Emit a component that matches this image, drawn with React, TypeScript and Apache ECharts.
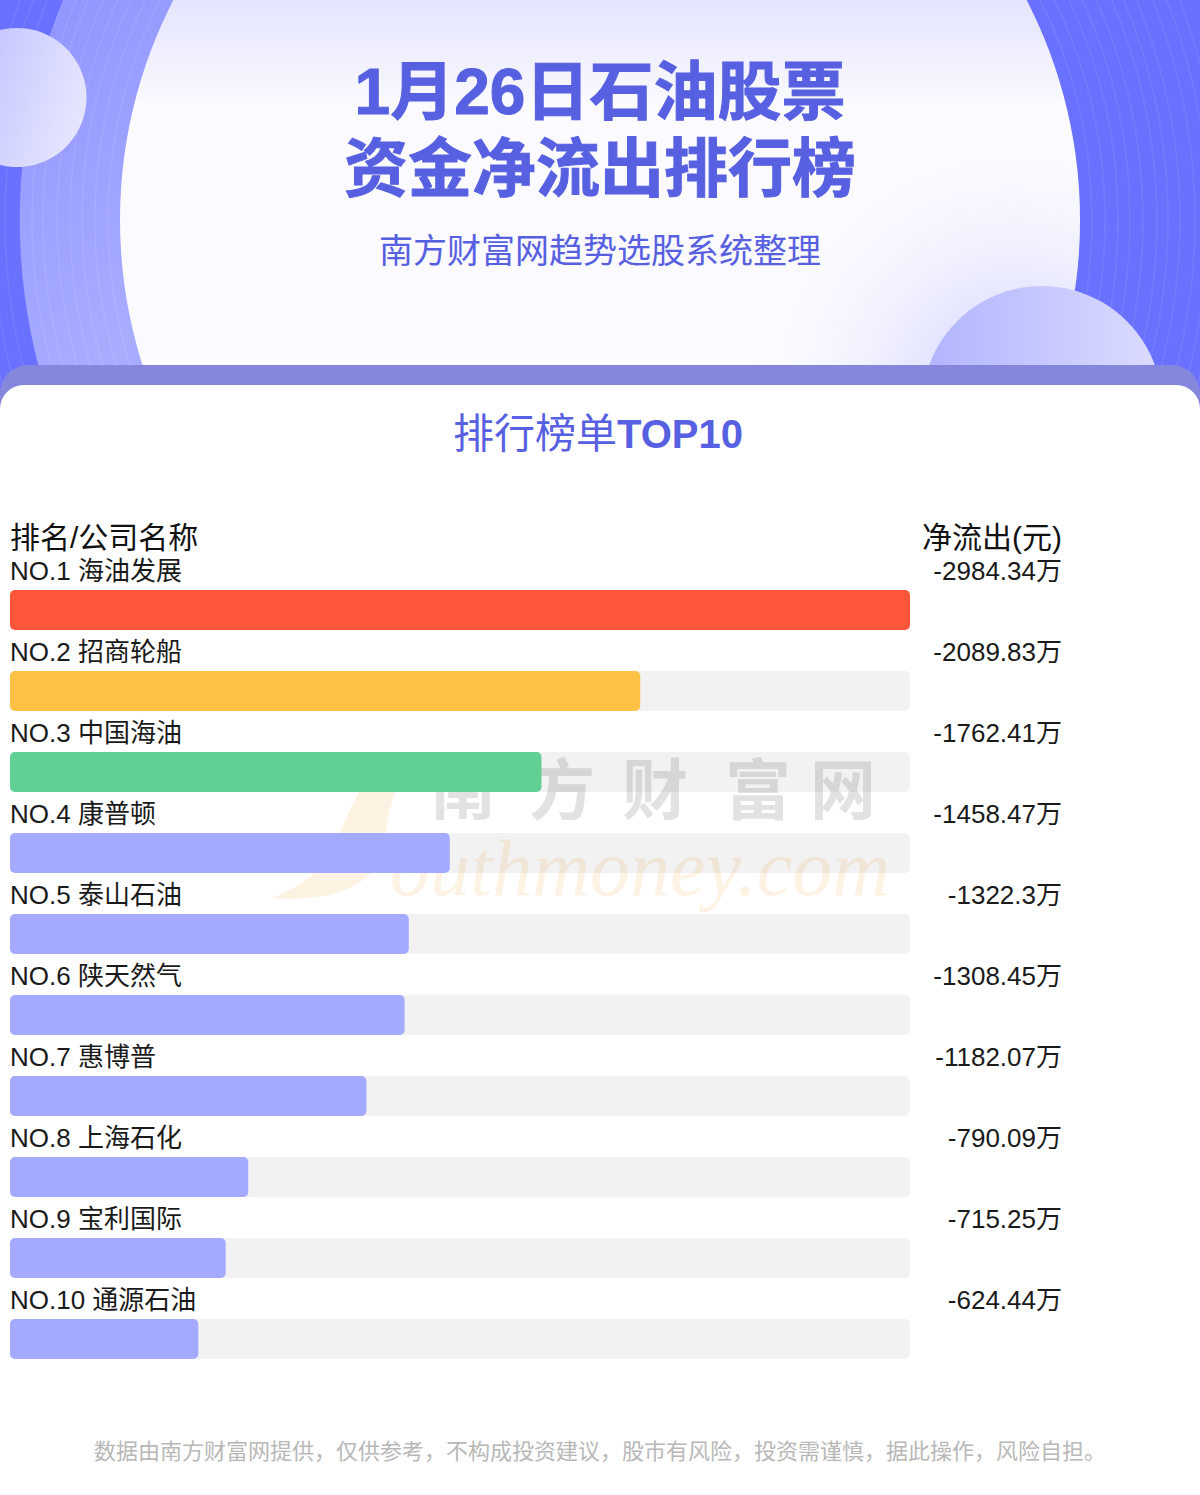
import React, { useEffect, useRef } from "react";
import * as echarts from "echarts";

const companies = ["海油发展", "招商轮船", "中国海油", "康普顿", "泰山石油", "陕天然气", "惠博普", "上海石化", "宝利国际", "通源石油"];
const outflows = [2984.34, 2089.83, 1762.41, 1458.47, 1322.3, 1308.45, 1182.07, 790.09, 715.25, 624.44];
const barColors = ["#ff5539", "#ffc145", "#62cf94", "#a4aaff", "#a4aaff", "#a4aaff", "#a4aaff", "#a4aaff", "#a4aaff", "#a4aaff"];
const ringRadii = [492, 505, 518, 530, 543, 557, 568, 580, 595, 608, 620];
const watermarkChars = ["南", "方", "财", "富", "网"];
const watermarkX = [463, 562, 655, 758, 843];

const FONT = '"Liberation Sans", "Noto Sans CJK SC", sans-serif';
const TITLE_COLOR = "#5860e2";

echarts.graphic.registerShape(
  "swoosh",
  echarts.graphic.extendPath("M398 752 C362 768 345 825 328 858 C314 878 292 890 272 898 C330 902 372 888 384 850 C388 800 398 780 420 752 Z", {})
);

const text = (t: string, x: number, y: number, size: number, fill: string, align = "center", weight: any = "normal", family = FONT, extra: any = {}) => ({
  type: "text",
  style: { text: t, x, y, fontSize: size, fontFamily: family, fontWeight: weight, fill, textAlign: align, textVerticalAlign: "middle", ...extra },
});

const App = () => {
  const chartRef = useRef<HTMLDivElement>(null);

  useEffect(() => {
    const chart = echarts.init(chartRef.current, null, { renderer: "svg" });
    const axisMax = outflows[0];
    const heavy = { stroke: TITLE_COLOR, lineWidth: 1 };

    chart.setOption({
      animation: false,
      backgroundColor: "#ffffff",
      graphic: [
        // header background
        { type: "rect", shape: { x: 0, y: 0, width: 1200, height: 420 }, style: { fill: "#6a70ff" } },
        {
          type: "circle",
          shape: { cx: 600, cy: 220, r: 580 },
          style: {
            fill: {
              type: "linear", x: 0, y: 0.25, x2: 0.35, y2: 0.65,
              colorStops: [
                { offset: 0, color: "#8a90ff" },
                { offset: 0.6, color: "#a8acff" },
                { offset: 1, color: "#a8acff" },
              ],
            },
          },
        },
        { type: "rect", shape: { x: 600, y: 0, width: 600, height: 420 }, style: { fill: "#6a70ff" } },
        ...ringRadii.map((r) => ({
          type: "circle",
          shape: { cx: 600, cy: 220, r },
          style: { fill: "none", stroke: "rgba(255,255,255,0.09)", lineWidth: 1.5 },
        })),
        {
          type: "circle",
          shape: { cx: 600, cy: 220, r: 480 },
          style: {
            fill: {
              type: "linear", x: 0, y: 0.22, x2: 0, y2: 0.38,
              colorStops: [
                { offset: 0, color: "#dadaff" },
                { offset: 1, color: "#fafaff" },
              ],
            },
          },
        },
        // soft tint inside the big circle, lower right
        {
          type: "circle",
          shape: { cx: 600, cy: 220, r: 480 },
          style: {
            fill: {
              type: "radial", x: 0.93, y: 0.68, r: 0.28,
              colorStops: [
                { offset: 0, color: "rgba(190,192,255,0.8)" },
                { offset: 1, color: "rgba(250,250,255,0)" },
              ],
            },
          },
        },
        {
          type: "circle",
          shape: { cx: 17, cy: 97.5, r: 69.5 },
          style: {
            fill: {
              type: "linear", x: 0, y: 0, x2: 1, y2: 0.3,
              colorStops: [
                { offset: 0, color: "#b6b9ff" },
                { offset: 1, color: "#e4e4ff" },
              ],
            },
          },
        },
        {
          type: "circle",
          shape: { cx: 1042, cy: 406, r: 120 },
          style: {
            fill: {
              type: "linear", x: 0, y: 0.3, x2: 1, y2: 0.3,
              colorStops: [
                { offset: 0, color: "#b0b4ff" },
                { offset: 1, color: "#dcdcff" },
              ],
            },
          },
        },
        // card
        { type: "rect", shape: { x: 0, y: 365, width: 1200, height: 100, r: [28, 28, 0, 0] }, style: { fill: "#8587dc" } },
        { type: "rect", shape: { x: 0, y: 385, width: 1200, height: 1110, r: [24, 24, 0, 0] }, style: { fill: "#ffffff" } },
        // watermark
        { type: "swoosh", style: { fill: "#fef2e2" } },
        ...watermarkChars.map((c, i) => text(c, watermarkX[i], 785, 66, "#e2e2e2", "center", "bold", '"Noto Sans CJK SC", sans-serif')),
        text("outhmoney.com", 890, 868, 80, "#fdf2e3", "right", "normal", '"Liberation Serif", serif', { fontStyle: "italic" }),
        // titles
        text("1月26日石油股票", 600, 92, 64, TITLE_COLOR, "center", "bold", FONT, heavy),
        text("资金净流出排行榜", 600, 169, 64, TITLE_COLOR, "center", "bold", FONT, heavy),
        text("南方财富网趋势选股系统整理", 600, 251, 34, TITLE_COLOR),
        text("排行榜单", 617, 434, 41, TITLE_COLOR, "right"),
        text("TOP10", 617, 434, 40, TITLE_COLOR, "left", "bold"),
        text("排名/公司名称", 10, 537, 30, "#111111", "left"),
        text("净流出(元)", 1062, 537, 30, "#111111", "right"),
        text("数据由南方财富网提供，仅供参考，不构成投资建议，股市有风险，投资需谨慎，据此操作，风险自担。", 600, 1449, 22, "#b8b8b8", "center", "normal", '"Noto Sans CJK KR", sans-serif'),
      ],
      grid: { left: 10, width: 900, top: 569.5, height: 810 },
      xAxis: { type: "value", min: 0, max: axisMax, show: false },
      yAxis: { type: "category", inverse: true, show: false, data: companies },
      series: [
        {
          name: "track",
          type: "bar",
          barWidth: 40,
          barGap: "-100%",
          silent: true,
          data: outflows.map(() => axisMax),
          itemStyle: { color: "rgba(0,0,0,0.05)", borderRadius: 5 },
          label: {
            show: true,
            position: [1052, -19],
            align: "right",
            verticalAlign: "middle",
            fontSize: 26,
            fontFamily: FONT,
            color: "#1a1a1a",
            formatter: (p: any) => `-${outflows[p.dataIndex]}万`,
          },
        },
        {
          name: "净流出",
          type: "bar",
          barWidth: 40,
          barGap: "-100%",
          data: outflows.map((v, i) => ({ value: v, itemStyle: { color: barColors[i], borderRadius: 5 } })),
          label: {
            show: true,
            position: [0, -19],
            align: "left",
            verticalAlign: "middle",
            fontSize: 26,
            fontFamily: FONT,
            color: "#1a1a1a",
            formatter: (p: any) => `NO.${p.dataIndex + 1} ${companies[p.dataIndex]}`,
          },
        },
      ],
    });

    return () => {
      chart.dispose();
    };
  }, []);

  return <div ref={chartRef} style={{ position: "absolute", left: 0, top: 0, width: 1200, height: 1495 }} />;
};

export default App;
